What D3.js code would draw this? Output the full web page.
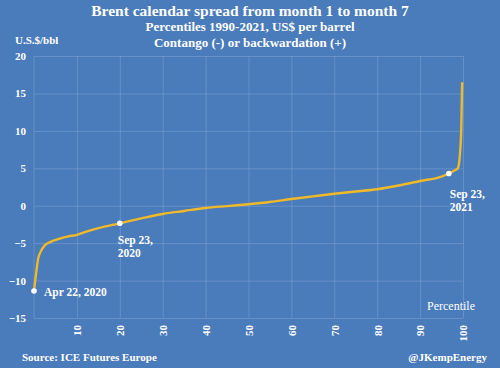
<!DOCTYPE html>
<html><head><meta charset="utf-8">
<script src="https://cdn.jsdelivr.net/npm/d3@7"></script>
<style>
body{margin:0;background:#4a7bbb;}
svg{display:block;}
text{font-family:"Liberation Serif","DejaVu Serif",serif;fill:#fff;}
</style></head>
<body>
<svg id="chart" width="500" height="368"></svg>
<script>
const percentiles = [0,0.5,1,1.5,2.5,4,6,8,10,12,15,20,25,30,35,40,45,50,55,60,65,70,75,80,85,90,95,96.7,98,98.8,99.3,99.6,99.8];
const spreads = [-11.4,-9,-7,-6.2,-5.3,-4.8,-4.4,-4.1,-3.9,-3.5,-3.0,-2.35,-1.7,-1.1,-0.7,-0.3,-0.05,0.2,0.5,0.9,1.25,1.6,1.9,2.2,2.7,3.3,3.9,4.3,4.7,5.0,7,10.5,16.5];
const yTicks = [20,15,10,5,0,-5,-10,-15];
const xTicks = [10,20,30,40,50,60,70,80,90,100];
const markers = [
  {p:0, v:-11.4, lines:["Apr 22, 2020"], dx:10, dy:5},
  {p:20, v:-2.35, lines:["Sep 23,","2020"], dx:-2, dy:21},
  {p:96.7, v:4.3, lines:["Sep 23,","2021"], dx:1, dy:24}
];
const titleLines = ["Brent calendar spread from month 1 to month 7","Percentiles 1990-2021, US$ per barrel","Contango (-) or backwardation (+)"];

const svg = d3.select("#chart");
svg.append("rect").attr("width",500).attr("height",368).attr("fill","#4a7bbb");

const x = d3.scaleLinear().domain([0,100]).range([34,463]);
const y = d3.scaleLinear().domain([-15,20]).range([318,56]);

const g = svg.append("g");
g.append("g").attr("transform",`translate(${x(0)},0)`)
 .call(d3.axisLeft(y).tickValues(yTicks).tickSize(-(x(100)-x(0))).tickFormat(""))
 .call(a=>a.select(".domain").remove())
 .call(a=>a.selectAll("line").attr("stroke","#7ea2d2").attr("stroke-opacity",0.55).attr("stroke-width",1));
g.append("g").attr("transform",`translate(0,${y(-15)})`)
 .call(d3.axisBottom(x).tickValues(xTicks).tickSize(-(y(-15)-y(20))).tickFormat(""))
 .call(a=>a.select(".domain").remove())
 .call(a=>a.selectAll("line").attr("stroke","#7ea2d2").attr("stroke-opacity",0.55).attr("stroke-width",1));
g.append("line").attr("x1",x(0)).attr("x2",x(0)).attr("y1",y(20)).attr("y2",y(-15))
 .attr("stroke","#7ea2d2").attr("stroke-opacity",0.55);

const yAx = svg.append("g").attr("transform",`translate(${x(0)},0)`)
 .call(d3.axisLeft(y).tickValues(yTicks).tickSize(0).tickPadding(8));
yAx.select(".domain").remove();
yAx.selectAll("text").attr("fill","#fff").style("font-family","'Liberation Serif',serif").style("font-size","11px").style("font-weight","bold");

const xAx = svg.append("g").attr("transform",`translate(0,${y(-15)})`)
 .call(d3.axisBottom(x).tickValues(xTicks).tickSize(0).tickFormat(d3.format("d")));
xAx.select(".domain").remove();
xAx.selectAll("text").attr("fill","#fff").style("font-family","'Liberation Serif',serif").style("font-size","11px").style("font-weight","bold")
 .attr("transform","rotate(-90)").attr("text-anchor","end").attr("x",-7).attr("y",0).attr("dy","0.35em");

const data = percentiles.map((p,i)=>({p, v:spreads[i]}));
svg.append("path").datum(data)
 .attr("fill","none").attr("stroke","#f0b92a").attr("stroke-width",2.4)
 .attr("stroke-linejoin","round")
 .attr("d", d3.line().x(d=>x(d.p)).y(d=>y(d.v)).curve(d3.curveMonotoneX));

markers.forEach(m=>{
  svg.append("circle").attr("cx",x(m.p)).attr("cy",y(m.v)).attr("r",2.8).attr("fill","#fff");
  m.lines.forEach((l,i)=>svg.append("text").attr("x",x(m.p)+m.dx).attr("y",y(m.v)+m.dy+i*13)
    .style("font-size","11.5px").style("font-weight","bold").text(l));
});

svg.append("text").attr("x",250).attr("y",16).attr("text-anchor","middle")
 .style("font-size","15.5px").style("font-weight","bold").text(titleLines[0]);
svg.append("text").attr("x",250).attr("y",31).attr("text-anchor","middle")
 .style("font-size","13px").style("font-weight","bold").text(titleLines[1]);
svg.append("text").attr("x",250).attr("y",47).attr("text-anchor","middle")
 .style("font-size","13px").style("font-weight","bold").text(titleLines[2]);
svg.append("text").attr("x",15).attr("y",44)
 .style("font-size","11px").style("font-weight","bold").text("U.S.$/bbl");
svg.append("text").attr("x",475).attr("y",310).attr("text-anchor","end")
 .style("font-size","12px").text("Percentile");
svg.append("text").attr("x",22).attr("y",361)
 .style("font-size","11px").style("font-weight","bold").text("Source: ICE Futures Europe");
svg.append("text").attr("x",487).attr("y",361).attr("text-anchor","end")
 .style("font-size","11px").style("font-weight","bold").text("@JKempEnergy");
</script>
</body></html>
